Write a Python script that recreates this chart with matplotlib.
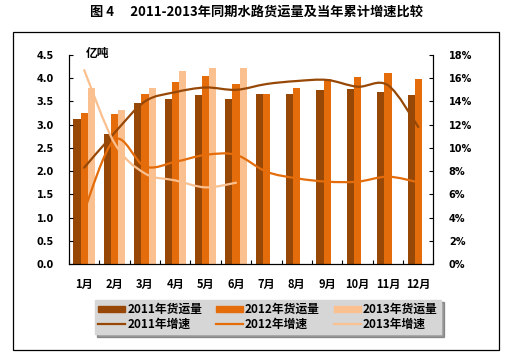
import matplotlib
matplotlib.use('Agg')
import matplotlib.pyplot as plt
import numpy as np
from matplotlib.path import Path
from matplotlib.patches import PathPatch, Rectangle
from matplotlib.lines import Line2D

plt.rcParams['font.family'] = ['Noto Sans CJK SC', 'DejaVu Sans']
plt.rcParams['font.weight'] = 'bold'

months = ['1月', '2月', '3月', '4月', '5月', '6月', '7月', '8月', '9月', '10月', '11月', '12月']
vol_2011 = [3.12, 2.79, 3.47, 3.55, 3.64, 3.55, 3.67, 3.67, 3.75, 3.77, 3.70, 3.64]
vol_2012 = [3.25, 3.23, 3.66, 3.92, 4.05, 3.88, 3.67, 3.78, 3.98, 4.03, 4.11, 3.98]
vol_2013 = [3.79, 3.32, 3.80, 4.16, 4.22, 4.22]
gr_2011 = [8.3, 11.3, 14.0, 14.8, 15.2, 15.0, 15.5, 15.76, 15.85, 15.27, 15.4, 11.8]
gr_2012 = [4.6, 10.7, 8.4, 8.8, 9.4, 9.4, 7.95, 7.38, 7.09, 7.09, 7.52, 7.04]
gr_2013 = [16.7, 10.4, 7.8, 7.2, 6.6, 7.0]

c1 = '#974806'
c2 = '#E46C0A'
c3 = '#FAC090'


def smooth_path(x, y):
    # excel style smoothed line: bezier through points
    p = np.column_stack([x, y]).astype(float)
    n = len(p)
    verts = [p[0]]
    codes = [Path.MOVETO]
    for i in range(n - 1):
        p0 = p[i - 1] if i > 0 else p[i]
        p3 = p[i + 2] if i + 2 < n else p[i + 1]
        a = p[i] + (p[i + 1] - p0) / 6.0
        b = p[i + 1] - (p3 - p[i]) / 6.0
        verts += [a, b, p[i + 1]]
        codes += [Path.CURVE4] * 3
    return Path(verts, codes)


fig = plt.figure(figsize=(5.08, 3.58), dpi=100)
fig.patches.append(Rectangle((13 / 508, 1 - 350 / 358), 486 / 508, 318 / 358,
                             transform=fig.transFigure, fill=False,
                             edgecolor='black', linewidth=0.9))
fig.text(0.505, 1 - 12 / 358, '图 4\u3000 2011-2013年同期水路货运量及当年累计增速比较',
         ha='center', va='center', fontsize=9.5, fontweight='bold')

ax = fig.add_axes([69 / 508, 1 - 264 / 358, 364.5 / 508, 209 / 358])
x = np.arange(12)
w = 0.237
ax.bar(x - w, vol_2011, w, color=c1, linewidth=0)
ax.bar(x, vol_2012, w, color=c2, linewidth=0)
ax.bar(np.arange(len(vol_2013)) + w, vol_2013, w, color=c3, linewidth=0)
ax.set_xlim(-0.5, 11.5)
ax.set_ylim(0, 4.5)
ax.set_yticks(np.arange(0, 4.51, 0.5))
ax.set_yticklabels(['%.1f' % v for v in np.arange(0, 4.51, 0.5)],
                   family='DejaVu Sans', fontweight='bold')
ax.set_xticks(x)
ax.set_xticklabels(months)
ax.set_xticks(np.arange(-0.5, 12, 1), minor=True)
ax.tick_params(axis='x', which='major', length=0, pad=10, labelsize=8)
ax.tick_params(axis='x', which='minor', direction='in', length=3, width=0.8)
ax.tick_params(axis='y', direction='in', length=3, width=0.8, pad=11, labelsize=7)
ax.spines['top'].set_visible(False)
for s in ['left', 'bottom', 'right']:
    ax.spines[s].set_linewidth(0.8)
ax.text(86 / 508, 1 - 54 / 358, '亿吨', transform=fig.transFigure,
        ha='left', va='center', fontsize=8.5, fontweight='bold')

ax2 = ax.twinx()
ax2.set_ylim(0, 18)
ax2.set_yticks(np.arange(0, 19, 2))
ax2.set_yticklabels(['%d%%' % v for v in np.arange(0, 19, 2)],
                    family='DejaVu Sans', fontweight='bold')
ax2.tick_params(axis='y', direction='in', length=3, width=0.8, pad=11, labelsize=7)
ax2.spines['top'].set_visible(False)
ax2.spines['right'].set_linewidth(0.8)
for vals, col in [(gr_2011, c1), (gr_2012, c2), (gr_2013, c3)]:
    ax2.add_patch(PathPatch(smooth_path(np.arange(len(vals)), vals), fill=False,
                            edgecolor=col, linewidth=1.6, capstyle='round'))

handles = [Rectangle((0, 0), 1, 1, color=c1), Line2D([], [], color=c1, lw=1.6),
           Rectangle((0, 0), 1, 1, color=c2), Line2D([], [], color=c2, lw=1.6),
           Rectangle((0, 0), 1, 1, color=c3), Line2D([], [], color=c3, lw=1.6)]
labels = ['2011年货运量', '2011年增速', '2012年货运量', '2012年增速', '2013年货运量', '2013年增速']
leg = fig.legend(handles, labels, ncol=3, loc='center',
                 bbox_to_anchor=(268 / 508, 1 - 317 / 358), fontsize=8.5,
                 frameon=True, fancybox=False, shadow=True, facecolor='#D6D6D6',
                 edgecolor='#D6D6D6', framealpha=1, handlelength=2.3, handleheight=0.5,
                 handletextpad=0.15, columnspacing=1.2, labelspacing=0.15,
                 borderpad=0.3)
for t in leg.get_texts():
    t.set_fontweight('bold')

fig.savefig('out.png', dpi=100)
